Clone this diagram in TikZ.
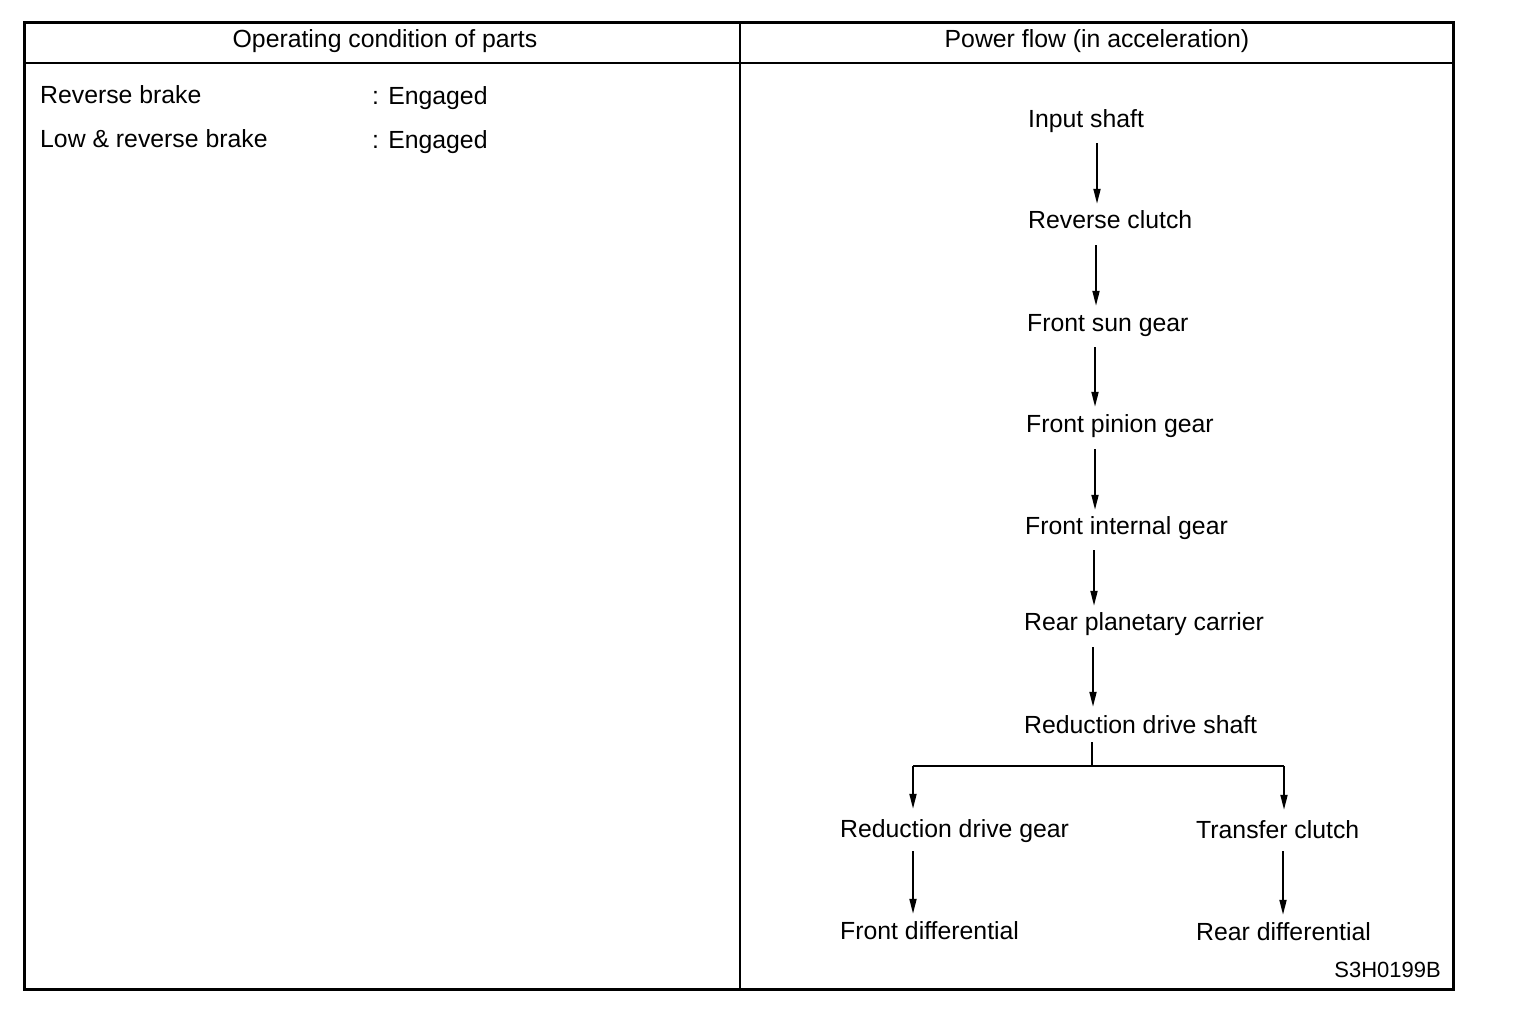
\documentclass[tikz,border=0pt]{standalone}
\usepackage{fontspec}
\setmainfont{Liberation Sans}
\usetikzlibrary{arrows.meta}
\begin{document}
\begin{tikzpicture}[x=1pt,y=-1pt,
  lbl/.style={anchor=base west,inner sep=0pt,font=\fontsize{24.8}{28}\selectfont},
  hdr/.style={anchor=base,inner sep=0pt,font=\fontsize{24.8}{28}\selectfont},
  fnode/.style={anchor=base west,inner sep=0pt,text height=18pt,text depth=5pt,font=\fontsize{24.8}{28}\selectfont},
  flow/.style={line width=1.8pt,-{Triangle[length=15pt,width=7pt]}},
  plain/.style={line width=1.8pt},
  frame/.style={line width=3pt},
  rule/.style={line width=1.8pt}]
\useasboundingbox (0,0) rectangle (1520,1016);
% frame
\draw[frame] (24,23) rectangle (1453,989);
\draw[rule] (740,23) -- (740,989);
\draw[rule] (24,63) -- (1453,63);
% headers
\node[hdr] (h1) at (385,48) {Operating condition of parts};
\node[hdr] (h2) at (1097,48) {Power flow (in acceleration)};
% left column
\node[lbl] (rb) at (40,104) {Reverse brake};
\node[lbl] (rbe) at (372,105) {: Engaged};
\node[lbl] (lrb) at (40,148) {Low \& reverse brake};
\node[lbl] (lrbe) at (372,149) {: Engaged};
% flow nodes
\node[fnode] (in) at (1028,128) {Input shaft};
\node[fnode] (rc) at (1028,229) {Reverse clutch};
\node[fnode] (fs) at (1027,331) {Front sun gear};
\node[fnode] (fp) at (1026,432) {Front pinion gear};
\node[fnode] (fi) at (1025,534) {Front internal gear};
\node[fnode] (rp) at (1024,630) {Rear planetary carrier};
\node[fnode] (rd) at (1024,733) {Reduction drive shaft};
\node[fnode] (rg) at (840,837) {Reduction drive gear};
\node[fnode] (tc) at (1196,838) {Transfer clutch};
\node[fnode] (fd) at (840,939) {Front differential};
\node[fnode] (rdf) at (1196,940) {Rear differential};
\node[anchor=base east,inner sep=0pt,font=\fontsize{22}{26}\selectfont] (code) at (1441,977) {S3H0199B};
% arrows
\draw[flow] ([xshift=69pt,yshift=-10pt]in.south west) -- ([xshift=69pt,yshift=7pt]rc.north west);
\draw[flow] ([xshift=68pt,yshift=-11pt]rc.south west) -- ([xshift=69pt,yshift=7pt]fs.north west);
\draw[flow] ([xshift=68pt,yshift=-11pt]fs.south west) -- ([xshift=69pt,yshift=7pt]fp.north west);
\draw[flow] ([xshift=69pt,yshift=-12pt]fp.south west) -- ([xshift=70pt,yshift=6pt]fi.north west);
\draw[flow] ([xshift=69pt,yshift=-11pt]fi.south west) -- ([xshift=70pt,yshift=6pt]rp.north west);
\draw[flow] ([xshift=69pt,yshift=-12pt]rp.south west) -- ([xshift=69pt,yshift=8pt]rd.north west);
\coordinate (br) at ([xshift=68pt,yshift=-28pt]rd.south west);
\coordinate (bl) at ([xshift=73pt]br -| rg.west);
\coordinate (brr) at ([xshift=88pt]br -| tc.west);
\draw[plain] ([xshift=68pt,yshift=-4pt]rd.south west) -- (br);
\draw[plain] (bl) -- (brr);
\draw[flow] (bl) -- ([yshift=10pt]bl |- rg.north);
\draw[flow] (brr) -- ([yshift=10pt]brr |- tc.north);
\draw[flow] ([xshift=73pt,yshift=-9pt]rg.south west) -- ([xshift=73pt,yshift=7pt]fd.north west);
\draw[flow] ([xshift=87pt,yshift=-8pt]tc.south west) -- ([xshift=87pt,yshift=7pt]rdf.north west);
\end{tikzpicture}
\end{document}
